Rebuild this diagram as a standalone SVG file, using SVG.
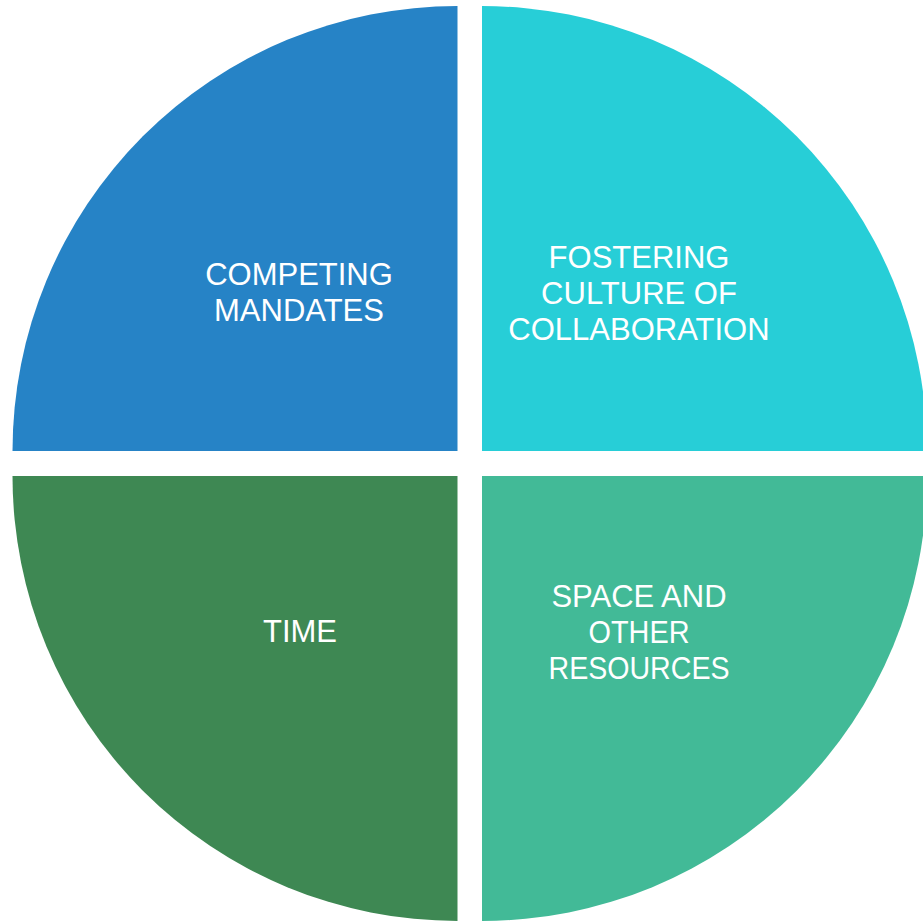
<svg xmlns="http://www.w3.org/2000/svg" width="923" height="922" viewBox="0 0 923 922">
<style>
.lbl{font-family:"Liberation Sans",Arial,sans-serif;font-size:31px;fill:#ffffff;text-anchor:middle}
</style>
<rect width="923" height="922" fill="#ffffff"/>
<g id="competing-mandates">
<path d="M457.5,451 L12.5,451 A445,445 0 0 1 457.5,6 Z" fill="#2683C6"/>
<text class="lbl" x="299" y="285">COMPETING</text>
<text class="lbl" x="299" y="321">MANDATES</text>
</g>
<g id="fostering-culture">
<path d="M482,451 L482,6 A445,445 0 0 1 927,451 Z" fill="#27CED7"/>
<text class="lbl" x="639" y="268">FOSTERING</text>
<text class="lbl" x="639" y="304">CULTURE OF</text>
<text class="lbl" x="639" y="340">COLLABORATION</text>
</g>
<g id="space-resources">
<path d="M482,476 L927,476 A445,445 0 0 1 482,921 Z" fill="#42BA97"/>
<text class="lbl" x="639" y="607">SPACE AND</text>
<text class="lbl" x="639" y="643" textLength="101" lengthAdjust="spacingAndGlyphs">OTHER</text>
<text class="lbl" x="639" y="679" textLength="181" lengthAdjust="spacingAndGlyphs">RESOURCES</text>
</g>
<g id="time">
<path d="M457.5,476 L457.5,921 A445,445 0 0 1 12.5,476 Z" fill="#3E8853"/>
<text class="lbl" x="300" y="642">TIME</text>
</g>
<g id="connectors"/>
</svg>
